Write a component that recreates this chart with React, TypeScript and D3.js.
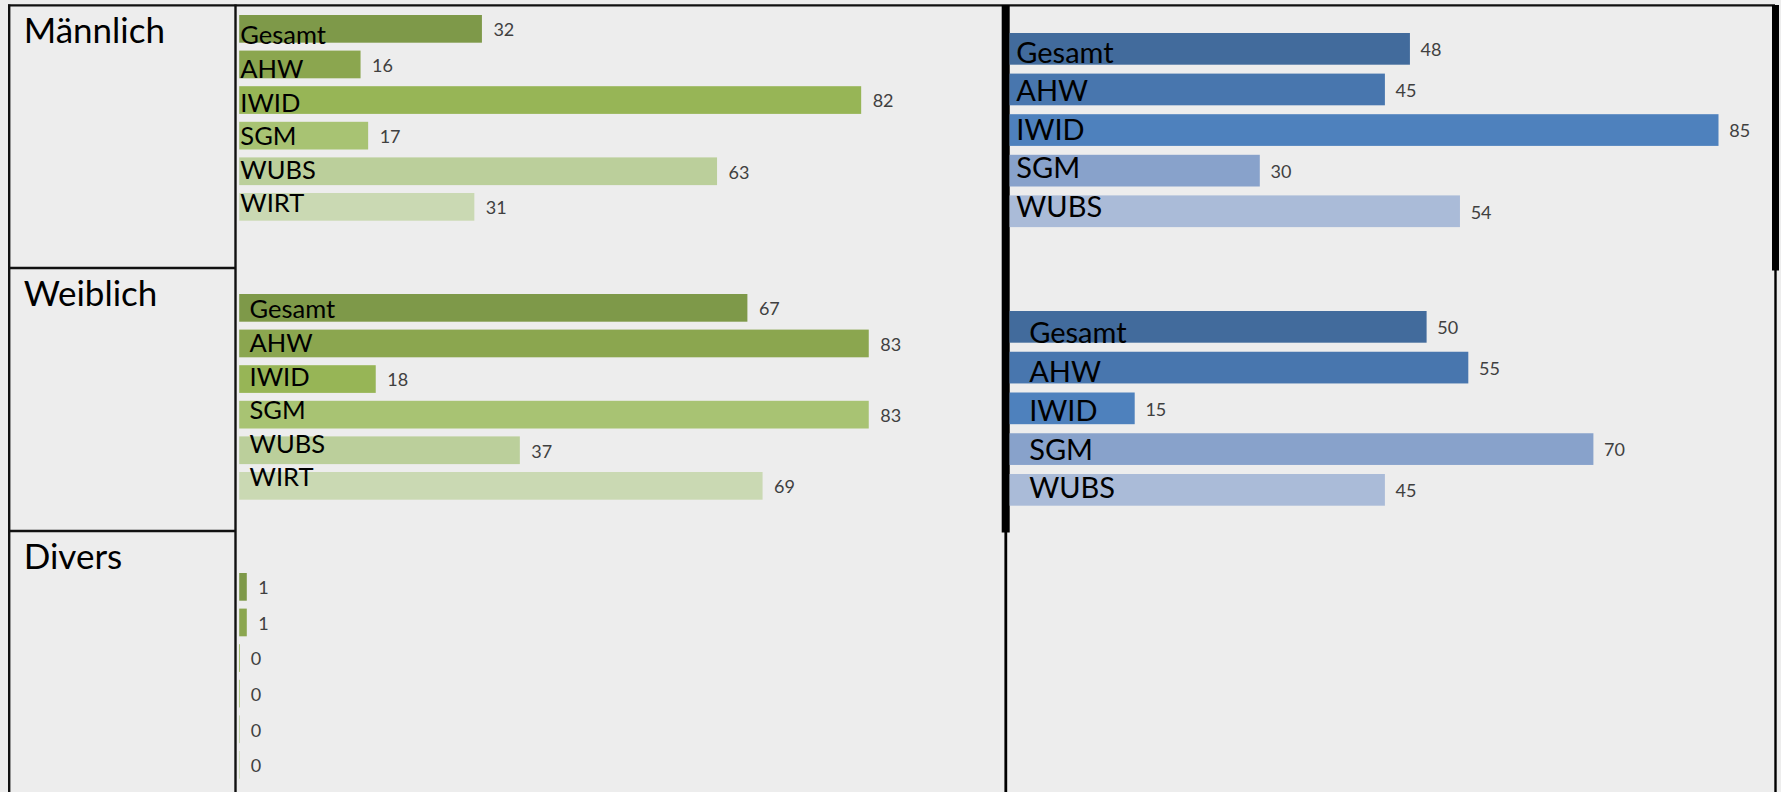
import React from "react";
import * as d3 from "d3";

// ---- data ----
const greenCategories = ["Gesamt", "AHW", "IWID", "SGM", "WUBS", "WIRT"];
const greenMale = [32, 16, 82, 17, 63, 31];
const greenFemale = [67, 83, 18, 83, 37, 69];
const greenDivers = [1, 1, 0, 0, 0, 0];

const blueCategories = ["Gesamt", "AHW", "IWID", "SGM", "WUBS"];
const blueMale = [48, 45, 85, 30, 54];
const blueFemale = [50, 55, 15, 70, 45];

const rowTitles = ["Männlich", "Weiblich", "Divers"];

const greenColors = ["#7E9949", "#8BA64F", "#97B556", "#A8C373", "#BBCF9B", "#CAD9B3"];
const blueColors = ["#426B9C", "#4876AE", "#4E81BD", "#88A2CB", "#AABBD8"];

const W = 1781;
const H = 792;
const FONT = "Lato, 'Open Sans', sans-serif";

type GroupProps = {
  values: number[];
  labels: string[] | null;
  colors: string[];
  x0: number;
  xScale: d3.ScaleLinear<number, number>;
  top: number;
  step: number;
  barH: number;
  labelX: number;
  labelTop: number;
  labelStep: number;
  labelSize: number;
  gap: number;
};

function BarGroup(p: GroupProps) {
  const n = p.values.length;
  const yScale = d3
    .scaleBand<number>()
    .domain(d3.range(n))
    .range([p.top, p.top + (n - 1) * p.step + p.barH])
    .paddingInner(1 - p.barH / p.step)
    .paddingOuter(0);
  return (
    <g>
      {p.values.map((v, i) => {
        const y = yScale(i) as number;
        const w = Math.max(p.xScale(v), 0.8);
        const xEnd = p.x0 + p.xScale(v);
        return (
          <g key={i}>
            <rect x={p.x0} y={y} width={w} height={yScale.bandwidth()} fill={p.colors[i]} />
            <text
              x={xEnd + p.gap}
              y={y + yScale.bandwidth() / 2 + 7.3}
              fontSize={18}
              fontFamily={FONT}
              fill="#404040"
            >
              {v}
            </text>
          </g>
        );
      })}
      {p.labels &&
        p.labels.map((l, i) => (
          <text
            key={"l" + i}
            x={p.labelX}
            y={p.labelTop + i * p.labelStep}
            fontSize={p.labelSize}
            fontFamily={FONT}
            fill="#000"
          >
            {l}
          </text>
        ))}
    </g>
  );
}

export default function App() {
  const gx0 = 239.2;
  const gScale = d3.scaleLinear().domain([0, 100]).range([0, 758.5]);
  const bx0 = 1009.6;
  const bScale = d3.scaleLinear().domain([0, 100]).range([0, 834]);

  const rowTops = [5.3, 268, 531];

  return (
    <svg
      width={W}
      height={H}
      style={{ position: "absolute", left: 0, top: 0, display: "block" }}
    >
      <rect x={0} y={0} width={W} height={H} fill="#EDEDED" />

      {/* grid lines */}
      <line x1={8} x2={1775} y1={5.3} y2={5.3} stroke="#111" strokeWidth={2.2} />
      <line x1={9.2} x2={9.2} y1={4.5} y2={H} stroke="#111" strokeWidth={2.4} />
      <line x1={235.5} x2={235.5} y1={4.5} y2={H} stroke="#111" strokeWidth={2.4} />
      <line x1={8} x2={236} y1={268} y2={268} stroke="#111" strokeWidth={2.4} />
      <line x1={8} x2={236} y1={531} y2={531} stroke="#111" strokeWidth={2.4} />
      <rect x={1001.7} y={5} width={8} height={527.5} fill="#000" />
      <line x1={1005.8} x2={1005.8} y1={532} y2={H} stroke="#000" strokeWidth={2.8} />
      <rect x={1772} y={5} width={7} height={265.5} fill="#000" />
      <line x1={1775.5} x2={1775.5} y1={270} y2={H} stroke="#000" strokeWidth={2.4} />

      {rowTitles.map((t, i) => (
        <text key={t} x={23.7} y={rowTops[i] + 37.5} fontSize={35} fontFamily={FONT} fill="#000">
          {t}
        </text>
      ))}

      {/* green panels */}
      <BarGroup
        values={greenMale}
        labels={greenCategories}
        colors={greenColors}
        x0={gx0}
        xScale={gScale}
        top={15}
        step={35.6}
        barH={27.7}
        labelX={240.3}
        labelTop={44.3}
        labelStep={33.6}
        labelSize={25.5}
        gap={11.5}
      />
      <BarGroup
        values={greenFemale}
        labels={greenCategories}
        colors={greenColors}
        x0={gx0}
        xScale={gScale}
        top={294}
        step={35.6}
        barH={27.7}
        labelX={249.5}
        labelTop={318.3}
        labelStep={33.6}
        labelSize={25.5}
        gap={11.5}
      />
      <BarGroup
        values={greenDivers}
        labels={null}
        colors={greenColors}
        x0={gx0}
        xScale={gScale}
        top={573}
        step={35.6}
        barH={27.7}
        labelX={0}
        labelTop={0}
        labelStep={0}
        labelSize={25.5}
        gap={11.5}
      />

      {/* blue panels */}
      <BarGroup
        values={blueMale}
        labels={blueCategories}
        colors={blueColors}
        x0={bx0}
        xScale={bScale}
        top={33}
        step={40.6}
        barH={31.7}
        labelX={1016.3}
        labelTop={62.7}
        labelStep={38.5}
        labelSize={29}
        gap={10.7}
      />
      <BarGroup
        values={blueFemale}
        labels={blueCategories}
        colors={blueColors}
        x0={bx0}
        xScale={bScale}
        top={311}
        step={40.75}
        barH={31.7}
        labelX={1029.2}
        labelTop={343.3}
        labelStep={38.75}
        labelSize={29}
        gap={10.7}
      />
    </svg>
  );
}
